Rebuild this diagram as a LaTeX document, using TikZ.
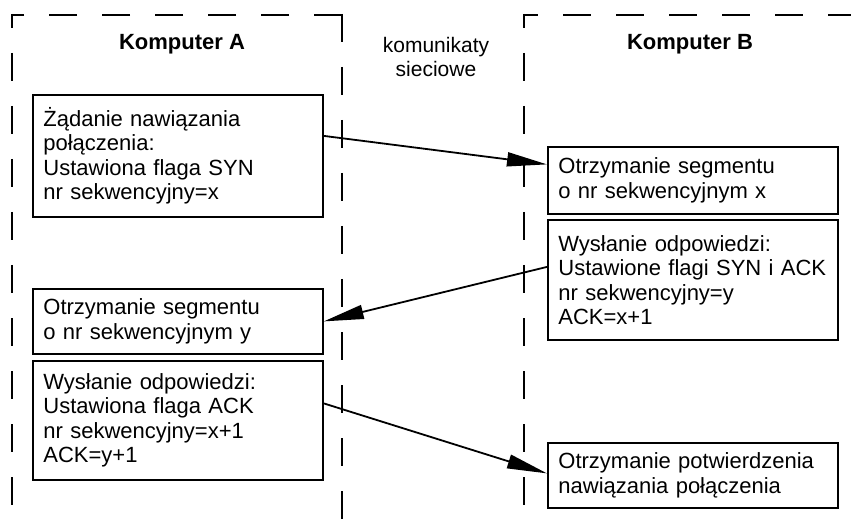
\documentclass[tikz,border=0pt]{standalone}
\usepackage{fontspec}
\setmainfont{Liberation Sans}
\usetikzlibrary{arrows.meta}
\begin{document}
\begin{tikzpicture}[x=1pt, y=-1pt,
  lane/.style={line width=2pt, dash pattern=on 28pt off 25pt},
  stepbox/.style={draw, line width=1.8pt, anchor=north west, align=left,
    text width=269pt, inner xsep=10pt, inner ysep=0pt, minimum width=290pt,
    font=\fontsize{22}{24.5}\selectfont},
  msg/.style={line width=1.8pt, -{Triangle[length=40pt, width=14pt]}},
  title/.style={anchor=base, font=\fontsize{22}{24.5}\selectfont\bfseries},
  plain/.style={align=center, font=\fontsize{21}{24.5}\selectfont}
]
\useasboundingbox (0,0) rectangle (851,521);

% lane borders
\draw[lane] (342,15) -- (11,15);
\draw[lane, dash phase=14pt] (12,14) -- (12,521);
\draw[lane] (342,14) -- (342,521);
\draw[lane, dash phase=13pt] (523,15) -- (851,15);
\draw[lane, dash phase=14pt] (524,14) -- (524,521);

% lane headings
\node[title] (ha) at (182,50) {Komputer A};
\node[title] (hb) at (690,50) {Komputer B};
\node[plain] (hn) at (436,57) {komunikaty\\sieciowe};

% steps of computer A
\node[stepbox, minimum height=122pt] (a1) at (32,94)
  {Żądanie nawiązania\\połączenia:\\Ustawiona flaga SYN\\nr sekwencyjny=x};
\node[stepbox, minimum height=65pt] (a2) at (32,288)
  {Otrzymanie segmentu\\o nr sekwencyjnym y};
\node[stepbox, minimum height=119pt] (a3) at (32,360)
  {Wysłanie odpowiedzi:\\Ustawiona flaga ACK\\nr sekwencyjny=x+1\\ACK=y+1};

% steps of computer B
\node[stepbox, minimum height=67pt] (b1) at (547,146)
  {Otrzymanie segmentu\\o nr sekwencyjnym x};
\node[stepbox, minimum height=120pt] (b2) at (547,219)
  {Wysłanie odpowiedzi:\\Ustawione flagi SYN i ACK\\nr sekwencyjny=y\\ACK=x+1};
\node[stepbox, minimum height=65pt] (b3) at (547,442)
  {Otrzymanie potwierdzenia\\nawiązania połączenia};

% messages
\draw[msg] ([yshift=20pt]a1.east) -- ([yshift=16pt]b1.west);
\draw[msg] ([yshift=13pt]b2.west) -- (a2.east);
\draw[msg] ([yshift=17pt]a3.east) -- ([yshift=2pt]b3.west);
\end{tikzpicture}
\end{document}
